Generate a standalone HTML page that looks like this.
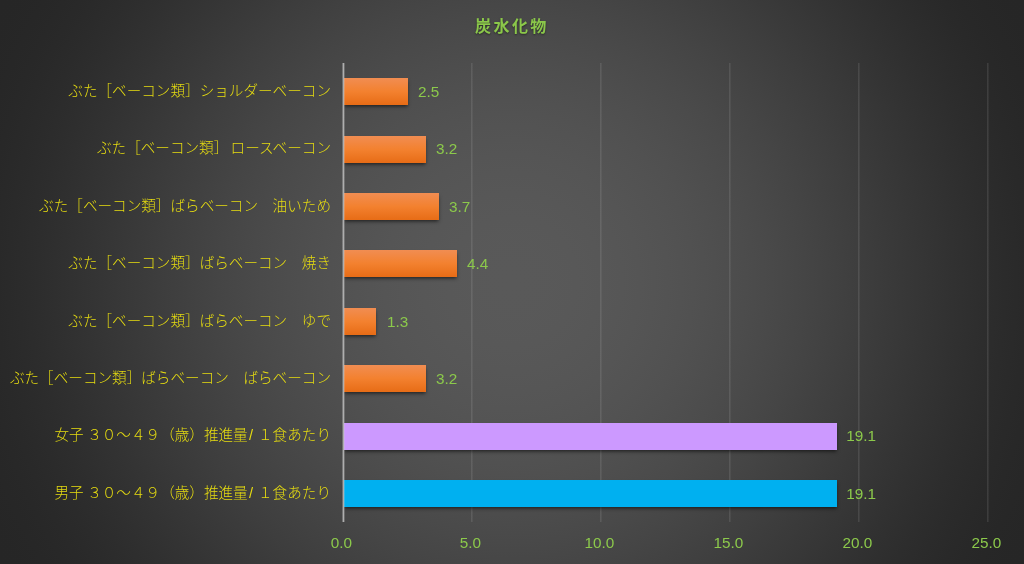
<!DOCTYPE html>
<html lang="ja"><head><meta charset="utf-8"><title>炭水化物</title>
<style>
html,body{margin:0;padding:0;}
body{width:1024px;height:564px;overflow:hidden;background:#262626;}
#chart{position:relative;width:1024px;height:564px;overflow:hidden;
 background:radial-gradient(circle 584.52px at 512px 282px,rgb(89.0,89.0,89.0) 0.00%,rgb(88.9,88.9,88.9) 3.12%,rgb(88.7,88.7,88.7) 6.25%,rgb(88.3,88.3,88.3) 9.38%,rgb(87.7,87.7,87.7) 12.50%,rgb(86.9,86.9,86.9) 15.62%,rgb(86.0,86.0,86.0) 18.75%,rgb(85.0,85.0,85.0) 21.88%,rgb(83.7,83.7,83.7) 25.00%,rgb(82.4,82.4,82.4) 28.12%,rgb(80.9,80.9,80.9) 31.25%,rgb(79.2,79.2,79.2) 34.38%,rgb(77.4,77.4,77.4) 37.50%,rgb(75.5,75.5,75.5) 40.62%,rgb(73.5,73.5,73.5) 43.75%,rgb(71.3,71.3,71.3) 46.88%,rgb(69.1,69.1,69.1) 50.00%,rgb(66.7,66.7,66.7) 53.12%,rgb(64.3,64.3,64.3) 56.25%,rgb(61.9,61.9,61.9) 59.38%,rgb(59.3,59.3,59.3) 62.50%,rgb(56.8,56.8,56.8) 65.62%,rgb(54.3,54.3,54.3) 68.75%,rgb(51.8,51.8,51.8) 71.88%,rgb(49.4,49.4,49.4) 75.00%,rgb(47.1,47.1,47.1) 78.12%,rgb(44.9,44.9,44.9) 81.25%,rgb(43.0,43.0,43.0) 84.38%,rgb(41.3,41.3,41.3) 87.50%,rgb(39.9,39.9,39.9) 90.62%,rgb(38.9,38.9,38.9) 93.75%,rgb(38.2,38.2,38.2) 96.88%,rgb(38.0,38.0,38.0) 100.00%);
 font-family:"Liberation Sans","Noto Sans CJK JP",sans-serif;}
.title{position:absolute;left:-1.3px;width:1024px;top:14.8px;height:24px;line-height:24px;text-align:center;
 color:#8bc84a;font-weight:bold;font-size:16px;letter-spacing:2.4px;text-indent:2.4px;
 font-family:"Liberation Sans","Noto Sans CJK JP",sans-serif;text-shadow:0 1px 2px rgba(0,0,0,.45);}
.grid{position:absolute;top:63.0px;height:459.2px;width:2px;background:linear-gradient(to right,rgba(255,255,255,.098) 0,rgba(255,255,255,.098) 1px,rgba(255,255,255,.056) 1px,rgba(255,255,255,.056) 2px);}
.axis{position:absolute;top:63.0px;height:459.2px;left:342px;width:3px;background:linear-gradient(to right,rgba(200,200,200,.36) 0,rgba(200,200,200,.36) 1px,#aeaeae 1px,#aeaeae 2px,rgba(200,200,200,.28) 2px,rgba(200,200,200,.28) 3px);}
.bar{position:absolute;left:343px;height:27.0px;box-shadow:0.6px 2.4px 3.6px -0.4px rgba(0,0,0,.62);}
.o{background:linear-gradient(to bottom,#f18d52 0%,#f3812f 50%,#e76c16 100%);}
.p{background:#cc99ff;}
.b{background:#00b0f0;}
.cat{position:absolute;left:0;width:331px;height:24px;line-height:24px;text-align:right;white-space:nowrap;
 color:#e6dc10;font-size:14.6px;font-weight:300;}
.sp{display:inline-block;width:3.5px;}
.sp2{display:inline-block;width:2.3px;}
.sl{display:inline-block;width:10.3px;text-align:left;text-indent:1.3px;}
.val{position:absolute;height:20px;line-height:20px;color:#8cc94b;font-size:15.3px;white-space:nowrap;}
.tick{position:absolute;top:532.9px;height:20px;line-height:20px;width:60px;text-align:center;color:#8cc94b;font-size:15.3px;}
</style></head><body><div id="chart">
<div class="title">炭水化物</div>
<div class="grid" style="left:471px"></div>
<div class="grid" style="left:600px"></div>
<div class="grid" style="left:729px"></div>
<div class="grid" style="left:858px"></div>
<div class="grid" style="left:987px"></div>
<div class="bar o" style="top:78px;width:65px"></div>
<div class="cat" style="top:79.0px">ぶた［ベーコン類］ショルダーベーコン</div>
<div class="val" style="top:82.0px;left:417.9px">2.5</div>
<div class="bar o" style="top:136px;width:83px"></div>
<div class="cat" style="top:136.4px">ぶた［ベーコン類］<span class=sp2> </span>ロースベーコン</div>
<div class="val" style="top:139.4px;left:436.0px">3.2</div>
<div class="bar o" style="top:193px;width:96px"></div>
<div class="cat" style="top:193.8px">ぶた［ベーコン類］ばらベーコン　油いため</div>
<div class="val" style="top:196.8px;left:448.9px">3.7</div>
<div class="bar o" style="top:250px;width:114px"></div>
<div class="cat" style="top:251.2px">ぶた［ベーコン類］ばらベーコン　焼き</div>
<div class="val" style="top:254.2px;left:466.9px">4.4</div>
<div class="bar o" style="top:308px;width:33px"></div>
<div class="cat" style="top:308.6px">ぶた［ベーコン類］ばらベーコン　ゆで</div>
<div class="val" style="top:311.6px;left:386.9px">1.3</div>
<div class="bar o" style="top:365px;width:83px"></div>
<div class="cat" style="top:366.0px">ぶた［ベーコン類］ばらベーコン　ばらベーコン</div>
<div class="val" style="top:369.0px;left:436.0px">3.2</div>
<div class="bar p" style="top:423px;width:494px"></div>
<div class="cat" style="top:423.4px">女子<span class=sp> </span>３０～４９（歳）推進量<span class=sl>/</span>１食あたり</div>
<div class="val" style="top:426.4px;left:846.2px">19.1</div>
<div class="bar b" style="top:480px;width:494px"></div>
<div class="cat" style="top:480.8px">男子<span class=sp> </span>３０～４９（歳）推進量<span class=sl>/</span>１食あたり</div>
<div class="val" style="top:483.8px;left:846.2px">19.1</div>
<div class="axis"></div>
<div class="tick" style="left:311.5px">0.0</div>
<div class="tick" style="left:440.5px">5.0</div>
<div class="tick" style="left:569.5px">10.0</div>
<div class="tick" style="left:698.5px">15.0</div>
<div class="tick" style="left:827.5px">20.0</div>
<div class="tick" style="left:956.5px">25.0</div>
</div></body></html>
